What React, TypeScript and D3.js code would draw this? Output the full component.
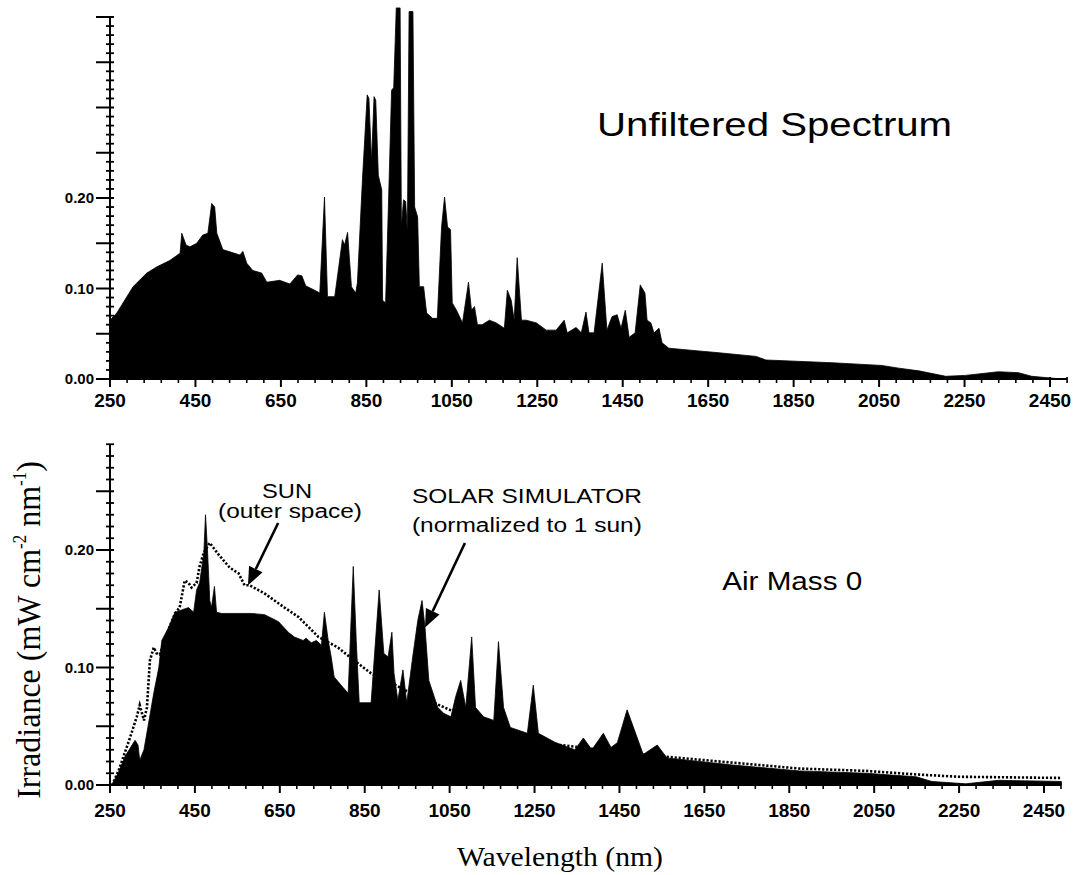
import React from "react";
import * as d3 from "d3";

// ---------- DATA ----------
// Top panel: unfiltered lamp spectrum
const unfilteredNm = [250, 266, 304, 336, 360, 390, 414, 418, 428, 437, 453, 467, 479, 488, 495, 500, 514, 554, 561, 570, 584, 605, 617, 647, 671, 689, 699, 708, 729, 741, 752, 759, 776, 794, 799, 806, 815, 825, 829, 841, 852, 856, 862, 868, 872, 878, 886, 888, 895, 902, 909, 914, 920, 929, 932, 937, 942, 946, 950, 959, 963, 970, 974, 984, 991, 1005, 1016, 1026, 1033, 1040, 1047, 1051, 1061, 1075, 1089, 1096, 1103, 1110, 1121, 1138, 1154, 1173, 1180, 1189, 1196, 1203, 1213, 1224, 1248, 1271, 1294, 1313, 1320, 1341, 1353, 1364, 1371, 1383, 1402, 1413, 1425, 1437, 1446, 1456, 1465, 1479, 1491, 1502, 1507, 1516, 1523, 1535, 1542, 1558, 1628, 1675, 1762, 1785, 1939, 2056, 2096, 2143, 2206, 2252, 2329, 2376, 2407, 2477];
const unfilteredIrr = [0.065, 0.073, 0.102, 0.117, 0.124, 0.131, 0.139, 0.161, 0.148, 0.146, 0.150, 0.159, 0.161, 0.194, 0.190, 0.161, 0.143, 0.137, 0.141, 0.128, 0.120, 0.117, 0.107, 0.109, 0.105, 0.115, 0.114, 0.103, 0.098, 0.095, 0.201, 0.091, 0.091, 0.154, 0.148, 0.162, 0.102, 0.095, 0.106, 0.222, 0.314, 0.310, 0.240, 0.312, 0.308, 0.225, 0.209, 0.087, 0.084, 0.198, 0.319, 0.322, 0.410, 0.410, 0.168, 0.198, 0.196, 0.161, 0.406, 0.406, 0.190, 0.179, 0.102, 0.102, 0.073, 0.067, 0.067, 0.168, 0.201, 0.168, 0.165, 0.084, 0.076, 0.062, 0.107, 0.076, 0.080, 0.060, 0.060, 0.065, 0.062, 0.056, 0.098, 0.087, 0.065, 0.134, 0.065, 0.065, 0.062, 0.054, 0.054, 0.065, 0.051, 0.057, 0.051, 0.074, 0.051, 0.051, 0.128, 0.054, 0.069, 0.071, 0.056, 0.076, 0.046, 0.051, 0.104, 0.095, 0.065, 0.062, 0.051, 0.056, 0.040, 0.034, 0.031, 0.029, 0.025, 0.021, 0.018, 0.015, 0.012, 0.009, 0.003, 0.004, 0.008, 0.007, 0.003, 0.000];

// Bottom panel: solar simulator (normalized to 1 sun)
const simulatorNm = [250, 257, 269, 285, 302, 309, 316, 320, 330, 342, 353, 365, 372, 388, 403, 419, 435, 447, 454, 461, 471, 475, 480, 485, 489, 496, 501, 513, 583, 614, 647, 670, 684, 705, 712, 724, 736, 748, 755, 764, 771, 778, 799, 811, 823, 830, 837, 865, 884, 895, 905, 914, 919, 928, 940, 949, 963, 975, 985, 992, 1001, 1022, 1036, 1053, 1064, 1076, 1088, 1102, 1111, 1130, 1154, 1165, 1177, 1193, 1233, 1247, 1259, 1300, 1345, 1365, 1385, 1412, 1430, 1445, 1468, 1492, 1506, 1539, 1562, 1717, 1874, 2031, 2149, 2186, 2266, 2343, 2491];
const simulatorIrr = [0.000, 0.002, 0.010, 0.024, 0.034, 0.038, 0.034, 0.021, 0.030, 0.055, 0.078, 0.100, 0.123, 0.134, 0.147, 0.149, 0.151, 0.147, 0.166, 0.172, 0.197, 0.230, 0.197, 0.157, 0.151, 0.169, 0.147, 0.146, 0.146, 0.145, 0.139, 0.130, 0.126, 0.123, 0.125, 0.121, 0.123, 0.119, 0.147, 0.123, 0.109, 0.092, 0.083, 0.078, 0.186, 0.123, 0.070, 0.070, 0.166, 0.112, 0.109, 0.130, 0.095, 0.072, 0.098, 0.070, 0.109, 0.140, 0.157, 0.134, 0.089, 0.066, 0.061, 0.058, 0.075, 0.089, 0.066, 0.126, 0.066, 0.058, 0.055, 0.122, 0.066, 0.049, 0.044, 0.085, 0.044, 0.036, 0.030, 0.040, 0.030, 0.044, 0.032, 0.036, 0.064, 0.040, 0.026, 0.034, 0.023, 0.017, 0.012, 0.010, 0.007, 0.003, 0.001, 0.004, 0.003];

// Bottom panel: sun, outer space (AM0)
const sunNm = [259, 271, 295, 313, 320, 330, 337, 344, 353, 360, 367, 384, 403, 414, 426, 435, 442, 454, 461, 471, 485, 506, 532, 553, 567, 579, 614, 661, 694, 741, 787, 818, 865, 912, 959, 1013, 1069, 1130, 1177, 1233, 1311, 1405, 1499, 1562, 1717, 1874, 2031, 2149, 2250, 2491];
const sunIrr = [0.003, 0.013, 0.038, 0.058, 0.068, 0.055, 0.066, 0.106, 0.117, 0.112, 0.111, 0.129, 0.146, 0.151, 0.174, 0.172, 0.168, 0.172, 0.186, 0.198, 0.206, 0.196, 0.185, 0.180, 0.170, 0.170, 0.163, 0.151, 0.143, 0.126, 0.117, 0.108, 0.095, 0.087, 0.078, 0.070, 0.061, 0.053, 0.047, 0.041, 0.034, 0.030, 0.026, 0.024, 0.019, 0.014, 0.012, 0.009, 0.007, 0.006];

const xMajorTicks = [250, 450, 650, 850, 1050, 1250, 1450, 1650, 1850, 2050, 2250, 2450];
const yLabeledTicks = [0, 0.1, 0.2];

const FONT = "'Liberation Sans', Arial, Helvetica, sans-serif";
const SERIF = "'Liberation Serif', 'Times New Roman', Times, serif";

type Panel = {
  x: d3.ScaleLinear<number, number>;
  y: d3.ScaleLinear<number, number>;
  yMax: number;
  xMax: number;
  labelY: number;
};

function Axes({ p }: { p: Panel }) {
  const x0 = p.x(250);
  const y0 = p.y(0);
  const minorY = d3.range(0, Math.round(p.yMax * 100) + 1).map((i) => i / 100);
  const minorX = d3.range(250, p.xMax + 1, 40).filter((v) => (v - 250) % 200 !== 0);
  return (
    <g>
      {/* y axis */}
      <line x1={x0} x2={x0} y1={y0} y2={p.y(p.yMax)} stroke="#000" strokeWidth={2} />
      {minorY.map((v, i) => {
        const major = i % 5 === 0;
        return (
          <line
            key={"yt" + i}
            x1={major ? x0 - 14 : x0 - 4}
            x2={x0 + 4}
            y1={p.y(v)}
            y2={p.y(v)}
            stroke="#000"
            strokeWidth={major ? 2 : 1.8}
          />
        );
      })}
      {yLabeledTicks.map((v) => (
        <text
          key={"yl" + v}
          x={x0 - 16}
          y={p.y(v) + 5}
          textAnchor="end"
          fontFamily={FONT}
          fontWeight="bold"
          fontSize={15}
        >
          {d3.format(".2f")(v)}
        </text>
      ))}
      {/* x axis */}
      <line x1={x0} x2={p.x(p.xMax)} y1={y0} y2={y0} stroke="#000" strokeWidth={2} />
      {minorX.map((v) => (
        <line key={"xm" + v} x1={p.x(v)} x2={p.x(v)} y1={y0 - 2} y2={y0 + 4} stroke="#000" strokeWidth={1.6} />
      ))}
      {xMajorTicks.map((v) => (
        <g key={"xt" + v}>
          <line x1={p.x(v)} x2={p.x(v)} y1={y0 - 2} y2={y0 + 8} stroke="#000" strokeWidth={2} />
          <text
            x={p.x(v)}
            y={p.labelY}
            textAnchor="middle"
            fontFamily={FONT}
            fontWeight="bold"
            fontSize={19}
          >
            {v}
          </text>
        </g>
      ))}
    </g>
  );
}

function Arrow({ x1, y1, x2, y2 }: { x1: number; y1: number; x2: number; y2: number }) {
  const ang = Math.atan2(y2 - y1, x2 - x1);
  const len = 18;
  const half = 7.5;
  const bx = x2 - len * Math.cos(ang);
  const by = y2 - len * Math.sin(ang);
  const px = -Math.sin(ang) * half;
  const py = Math.cos(ang) * half;
  return (
    <g>
      <line x1={x1} y1={y1} x2={bx} y2={by} stroke="#000" strokeWidth={2.6} />
      <polygon points={`${x2},${y2} ${bx + px},${by + py} ${bx - px},${by - py}`} fill="#000" />
    </g>
  );
}

export default function App() {
  const top: Panel = {
    x: d3.scaleLinear().domain([250, 2450]).range([110, 1050]),
    y: d3.scaleLinear().domain([0, 0.4]).range([379, 17]),
    yMax: 0.4,
    xMax: 2490,
    labelY: 407,
  };
  const bot: Panel = {
    x: d3.scaleLinear().domain([250, 2450]).range([110, 1044]),
    y: d3.scaleLinear().domain([0, 0.1]).range([785, 667.5]),
    yMax: 0.29,
    xMax: 2490,
    labelY: 817,
  };

  const topArea = d3
    .area<number>()
    .x((_, i) => top.x(unfilteredNm[i]))
    .y0(top.y(0))
    .y1((d) => top.y(d));
  const simArea = d3
    .area<number>()
    .x((_, i) => bot.x(simulatorNm[i]))
    .y0(bot.y(0))
    .y1((d) => bot.y(d));
  const sunLine = d3
    .line<number>()
    .x((_, i) => bot.x(sunNm[i]))
    .y((d) => bot.y(d));

  return (
    <svg
      width={1073}
      height={875}
      style={{ position: "absolute", left: 0, top: 0, background: "#fff" }}
    >
      <rect x={0} y={0} width={1073} height={875} fill="#fff" />

      {/* ---- top panel ---- */}
      <path d={topArea(unfilteredIrr) || ""} fill="#000" stroke="#000" strokeWidth={0.8} strokeLinejoin="round" />
      <Axes p={top} />
      <text
        x={top.x(1390)}
        y={top.y(0.268)}
        fontFamily={FONT}
        fontSize={34}
        textLength={355}
        lengthAdjust="spacingAndGlyphs"
      >
        Unfiltered Spectrum
      </text>

      {/* ---- bottom panel ---- */}
      <path d={simArea(simulatorIrr) || ""} fill="#000" stroke="#000" strokeWidth={0.8} strokeLinejoin="round" />
      <path
        d={sunLine(sunIrr) || ""}
        fill="none"
        stroke="#000"
        strokeWidth={2.6}
        strokeDasharray="2.2 1.8"
      />
      <Axes p={bot} />

      <text x={bot.x(1692)} y={bot.y(0.166)} fontFamily={FONT} fontSize={26} textLength={140} lengthAdjust="spacingAndGlyphs">
        Air Mass 0
      </text>

      <text x={bot.x(667)} y={bot.y(0.244)} textAnchor="middle" fontFamily={FONT} fontSize={20} textLength={50} lengthAdjust="spacingAndGlyphs">
        SUN
      </text>
      <text x={bot.x(674)} y={bot.y(0.227)} textAnchor="middle" fontFamily={FONT} fontSize={20} textLength={144} lengthAdjust="spacingAndGlyphs">
        (outer space)
      </text>
      <text x={bot.x(1232)} y={bot.y(0.240)} textAnchor="middle" fontFamily={FONT} fontSize={20} textLength={230} lengthAdjust="spacingAndGlyphs">
        SOLAR SIMULATOR
      </text>
      <text x={bot.x(1232)} y={bot.y(0.215)} textAnchor="middle" fontFamily={FONT} fontSize={20} textLength={230} lengthAdjust="spacingAndGlyphs">
        (normalized to 1 sun)
      </text>

      <Arrow x1={bot.x(646)} y1={bot.y(0.223)} x2={bot.x(575)} y2={bot.y(0.170)} />
      <Arrow x1={bot.x(1086)} y1={bot.y(0.206)} x2={bot.x(992)} y2={bot.y(0.134)} />

      {/* axis titles */}
      <g transform={`translate(40, 630) scale(1.08, 1) rotate(-90)`}>
        <text x={0} y={0} textAnchor="middle" fontFamily={SERIF} fontSize={32}>
          Irradiance (mW cm
          <tspan fontSize={17} dy={-13}>-2</tspan>
          <tspan dy={13}> nm</tspan>
          <tspan fontSize={17} dy={-13}>-1</tspan>
          <tspan dy={13}>)</tspan>
        </text>
      </g>
      <text
        x={560}
        y={866}
        textAnchor="middle"
        fontFamily={SERIF}
        fontSize={27}
        textLength={206}
        lengthAdjust="spacingAndGlyphs"
      >
        Wavelength (nm)
      </text>
    </svg>
  );
}
